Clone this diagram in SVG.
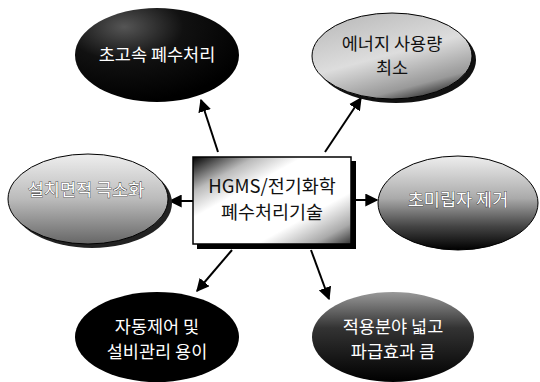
<svg xmlns="http://www.w3.org/2000/svg" width="540" height="382" viewBox="0 0 540 382">
<defs>
<style>
.t{font-family:"Noto Sans CJK KR","Noto Sans",sans-serif;font-size:17.5px;text-anchor:middle}
.w{fill:#fff}
.d{fill:#111}
.o{fill:#fff;stroke:#222;stroke-width:0.7;paint-order:stroke}
.c{stroke:#000;stroke-width:2;fill:none;marker-end:url(#ah)}
</style>
<marker id="ah" viewBox="0 0 10 10" refX="9" refY="5" markerWidth="6.5" markerHeight="6.5" orient="auto" markerUnits="strokeWidth"><path d="M0,0L10,5L0,10z" fill="#000"/></marker>
<radialGradient id="gBlack" cx="0.3" cy="0.2" r="0.8"><stop offset="0" stop-color="#555"/><stop offset="0.45" stop-color="#111"/><stop offset="1" stop-color="#000"/></radialGradient>
<linearGradient id="gLight" x1="0.2" y1="0" x2="0.7" y2="1"><stop offset="0" stop-color="#bbb"/><stop offset="0.5" stop-color="#ddd"/><stop offset="0.85" stop-color="#999"/><stop offset="1" stop-color="#333"/></linearGradient>
<linearGradient id="gMid" x1="0" y1="0" x2="0" y2="1"><stop offset="0" stop-color="#eee"/><stop offset="0.5" stop-color="#bbb"/><stop offset="1" stop-color="#666"/></linearGradient>
<linearGradient id="gDark" x1="0" y1="0" x2="0" y2="1"><stop offset="0" stop-color="#eee"/><stop offset="0.45" stop-color="#aaa"/><stop offset="0.75" stop-color="#444"/><stop offset="1" stop-color="#000"/></linearGradient>
<linearGradient id="gDark2" x1="0" y1="0" x2="0" y2="1"><stop offset="0" stop-color="#999"/><stop offset="0.4" stop-color="#333"/><stop offset="1" stop-color="#000"/></linearGradient>
<linearGradient id="gBox" x1="0" y1="0" x2="1" y2="1"><stop offset="0" stop-color="#000"/><stop offset="0.2" stop-color="#bbb"/><stop offset="0.35" stop-color="#fff"/><stop offset="0.7" stop-color="#fff"/><stop offset="0.88" stop-color="#aaa"/><stop offset="1" stop-color="#333"/></linearGradient>
</defs>
<g id="connectors">
<line class="c" x1="218" y1="152" x2="201" y2="100"/>
<line class="c" x1="325" y1="152" x2="361" y2="98"/>
<line class="c" x1="193" y1="201" x2="170" y2="201"/>
<line class="c" x1="353" y1="200" x2="377" y2="200"/>
<line class="c" x1="232" y1="250" x2="197" y2="291"/>
<line class="c" x1="311" y1="250" x2="329" y2="299"/>
</g>
<g id="n-top-left">
<ellipse cx="157" cy="55" rx="82" ry="47" fill="url(#gBlack)"/>
<text class="t w" x="157" y="61">초고속 폐수처리</text>
</g>
<g id="n-top-right">
<ellipse cx="396" cy="60" rx="80" ry="43" fill="#111"/>
<ellipse cx="392" cy="56" rx="80" ry="43" fill="url(#gLight)" stroke="#000" stroke-width="1"/>
<text class="t d" x="392" y="50">에너지 사용량</text>
<text class="t d" x="392" y="74">최소</text>
</g>
<g id="n-left">
<ellipse cx="92" cy="203" rx="80" ry="45" fill="#222"/>
<ellipse cx="88" cy="199" rx="80" ry="45" fill="url(#gMid)" stroke="#000" stroke-width="1"/>
<text class="t o" x="86" y="196">설치면적 극소화</text>
</g>
<g id="n-right">
<ellipse cx="458" cy="203" rx="80" ry="47" fill="url(#gDark)" stroke="#000" stroke-width="1"/>
<text class="t o" x="458" y="206">초미립자 제거</text>
</g>
<g id="n-center">
<rect x="197" y="161" width="159" height="88" fill="#000"/>
<rect x="193" y="157" width="158" height="87" fill="url(#gBox)" stroke="#000" stroke-width="1.5"/>
<text class="t d" x="272" y="193" style="font-size:18.5px">HGMS/전기화학</text>
<text class="t d" x="272" y="219" style="font-size:18.5px">폐수처리기술</text>
</g>
<g id="n-bottom-left">
<ellipse cx="157" cy="337" rx="82" ry="45" fill="#000"/>
<text class="t w" x="157" y="333">자동제어 및</text>
<text class="t w" x="157" y="358">설비관리 용이</text>
</g>
<g id="n-bottom-right">
<ellipse cx="393" cy="337" rx="81" ry="45" fill="url(#gDark2)"/>
<text class="t w" x="393" y="333">적용분야 넓고</text>
<text class="t w" x="393" y="358">파급효과 큼</text>
</g>
</svg>
